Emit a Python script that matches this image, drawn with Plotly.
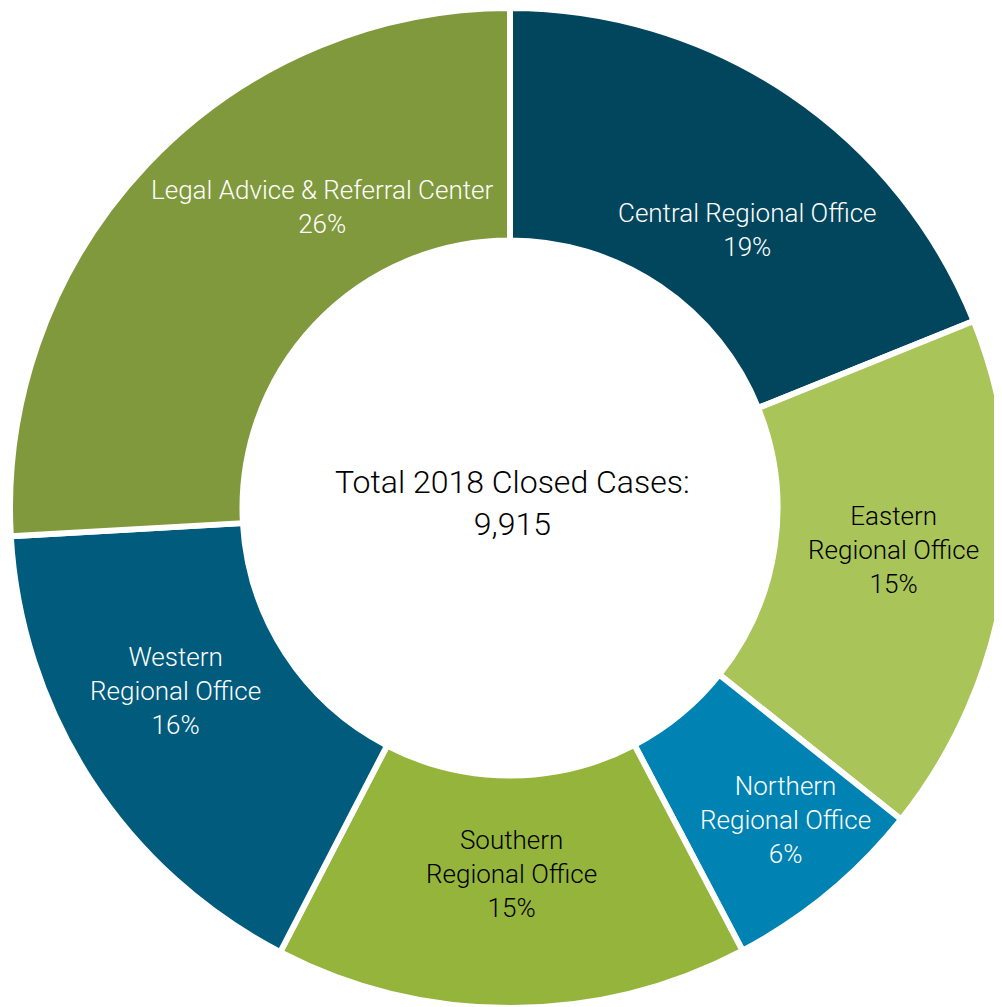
import plotly.graph_objects as go

# 2018 closed cases by office (counts)
offices = ["Central Regional Office", "Eastern Regional Office", "Northern Regional Office",
           "Southern Regional Office", "Western Regional Office", "Legal Advice & Referral Center"]
label_text = ["Central Regional Office", "Eastern<br>Regional Office", "Northern<br>Regional Office",
              "Southern<br>Regional Office", "Western<br>Regional Office", "Legal Advice & Referral Center"]
cases = [1874, 1666, 654, 1517, 1636, 2568]
pct_labels = ["19%", "15%", "6%", "15%", "16%", "26%"]
total_cases = "9,915"

colors = ["#02465D", "#A9C55A", "#0083B2", "#95B43C", "#015B7C", "#80993D"]
text_colors = ["white", "black", "white", "black", "white", "white"]
# where each slice label sits (paper coords), as in the original layout
label_xy = [(0.737, 0.778), (0.883, 0.458), (0.775, 0.188),
            (0.501, 0.134), (0.165, 0.317), (0.312, 0.801)]
FONT = "Roboto, sans-serif"

fig = go.Figure(go.Pie(
    labels=offices, values=cases, sort=False, direction="clockwise", rotation=0,
    hole=0.535, textinfo="none",
    marker=dict(colors=colors, line=dict(color="white", width=6)),
    showlegend=False,
))

for name, pct, (x, y), c in zip(label_text, pct_labels, label_xy, text_colors):
    fig.add_annotation(text=f"{name}<br>{pct}", x=x, y=y, xref="paper", yref="paper",
                       xanchor="center", yanchor="middle", showarrow=False,
                       font=dict(size=26, color=c, family=FONT, weight=300))

fig.add_annotation(text=f"Total 2018 Closed Cases:<br>{total_cases}", x=0.502, y=0.505,
                   xref="paper", yref="paper", xanchor="center", yanchor="middle",
                   showarrow=False, font=dict(size=32, color="black", family=FONT, weight=300))

fig.update_layout(width=1002, height=1007, margin=dict(l=2, r=0, t=0, b=7),
                  paper_bgcolor="white")
fig.write_html("out.html")
